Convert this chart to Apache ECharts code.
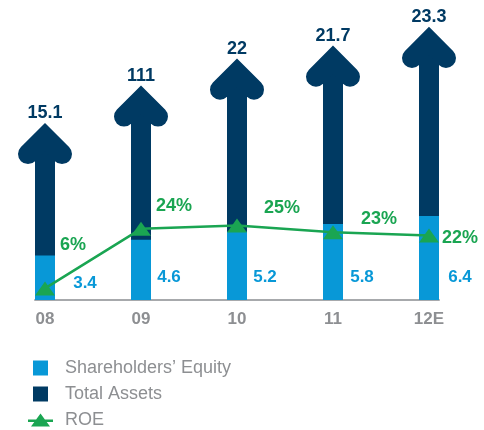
<!DOCTYPE html>
<html>
<head>
<meta charset="utf-8">
<script src="https://cdn.jsdelivr.net/npm/echarts@6/dist/echarts.min.js"></script>
<style>
html, body { margin: 0; padding: 0; background: #fff; }
#chart { width: 484px; height: 430px; }
</style>
</head>
<body>
<div id="chart"></div>
<script>
// data
const years = [ '08', '09', '10', '11', '12E' ]
const equity = [ 3.4, 4.6, 5.2, 5.8, 6.4 ]
const assetLabels = [ '15.1', '111', '22', '21.7', '23.3' ]
const assetArrow = [ 15.1, 18.3, 20.6, 21.7, 23.3 ]   // drawn arrow length
const roe = [ 6, 24, 25, 23, 22 ]

// label nudges (style only)
const equityShift = [ [ 40, 6 ], [ 28, 0 ], [ 28, 0 ], [ 29, 0 ], [ 31, 0 ] ]
const roeShift = [ [ 28, -43 ], [ 33, -23 ], [ 45, -18 ], [ 46, -13 ], [ 31, 3 ] ]

const navy = '#003a63'
const blue = '#0898d7'
const green = '#1aa552'
const grey = '#8d8f92'
const font = '"Liberation Sans", Arial, sans-serif'

const chart = echarts.init( document.getElementById( 'chart' ), null, { renderer: 'canvas' } )

const option = {
	animation: false,
	grid: { left: 35, right: 45, top: 27, bottom: 130 },
	xAxis: {
		type: 'value',
		min: -0.1042,
		max: 4.1042,
		axisLine: { show: true, onZero: false, lineStyle: { color: '#a7a9ac', width: 2 } },
		axisTick: { show: false },
		splitLine: { show: false },
		axisLabel: {
			customValues: [ 0, 1, 2, 3, 4 ],
			formatter: v => years[ v ],
			color: grey, fontSize: 17, fontWeight: 'bold', fontFamily: font, margin: 11
		}
	},
	yAxis: [
		{ type: 'value', show: false, min: 0, max: 20.8 },
		{ type: 'value', show: false, min: 0, max: 23.3 },
		{ type: 'value', show: false, min: 2.5, max: 85 }
	],
	legend: {
		orient: 'vertical',
		left: 28,
		top: 359,
		padding: 0,
		height: 80,
		itemWidth: 25,
		itemHeight: 15,
		itemGap: 8,
		symbolKeepAspect: true,
		textStyle: { color: grey, fontSize: 18, fontFamily: font, lineHeight: 18, padding: [ 0, 0, 0, 7 ] },
		data: [
			{ name: 'Shareholders’ Equity', icon: 'path://M0,0H15V15H0Z' },
			{ name: 'Total Assets', icon: 'path://M0,0H15V15H0Z' },
			{ name: 'ROE', icon: 'path://M0,7H25V9.5H0Z M3,14L12.5,1L22,14Z' }
		]
	},
	series: [
		{
			name: 'Total Assets',
			type: 'custom',
			yAxisIndex: 1,
			z: 1,
			itemStyle: { color: navy },
			data: assetArrow.map( ( v, i ) => [ i, v ] ),
			renderItem: ( params, api ) => {
				const i = api.value( 0 )
				const tip = api.coord( [ i, api.value( 1 ) ] )
				const base = api.coord( [ i, 0 ] )
				const w = 20, wing = 17, off = 14
				return {
					type: 'group',
					children: [
						{
							type: 'rect',
							shape: { x: tip[ 0 ] - w / 2, y: tip[ 1 ] + off, width: w, height: base[ 1 ] - tip[ 1 ] - off },
							style: { fill: navy }
						},
						{
							type: 'polyline',
							shape: { points: [
								[ tip[ 0 ] - wing, tip[ 1 ] + off + wing ],
								[ tip[ 0 ], tip[ 1 ] + off ],
								[ tip[ 0 ] + wing, tip[ 1 ] + off + wing ]
							] },
							style: { stroke: navy, lineWidth: w, lineCap: 'round', lineJoin: 'miter', fill: null }
						},
						{
							type: 'text',
							x: tip[ 0 ], y: tip[ 1 ] - 1,
							style: {
								text: assetLabels[ params.dataIndex ],
								align: 'center', verticalAlign: 'bottom',
								fill: navy, font: 'bold 18px ' + font
							}
						}
					]
				}
			}
		},
		{
			name: 'Shareholders’ Equity',
			type: 'bar',
			yAxisIndex: 0,
			z: 2,
			barWidth: 20,
			itemStyle: { color: blue },
			label: {
				show: true,
				position: 'insideBottom',
				distance: 14,
				color: blue, fontSize: 17, fontWeight: 'bold', fontFamily: font
			},
			data: equity.map( ( v, i ) => ( { value: [ i, v ], label: { offset: equityShift[ i ], formatter: String( v ) } } ) )
		},
		{
			name: 'ROE',
			type: 'line',
			yAxisIndex: 2,
			z: 3,
			symbol: 'triangle',
			symbolSize: [ 20, 14 ],
			itemStyle: { color: green },
			lineStyle: { color: green, width: 2.5 },
			label: {
				show: true,
				position: 'inside',
				color: green, fontSize: 18, fontWeight: 'bold', fontFamily: font
			},
			data: roe.map( ( v, i ) => ( { value: [ i, v ], label: { offset: roeShift[ i ], formatter: v + '%' } } ) )
		}
	]
}

chart.setOption( option )
</script>
</body>
</html>
